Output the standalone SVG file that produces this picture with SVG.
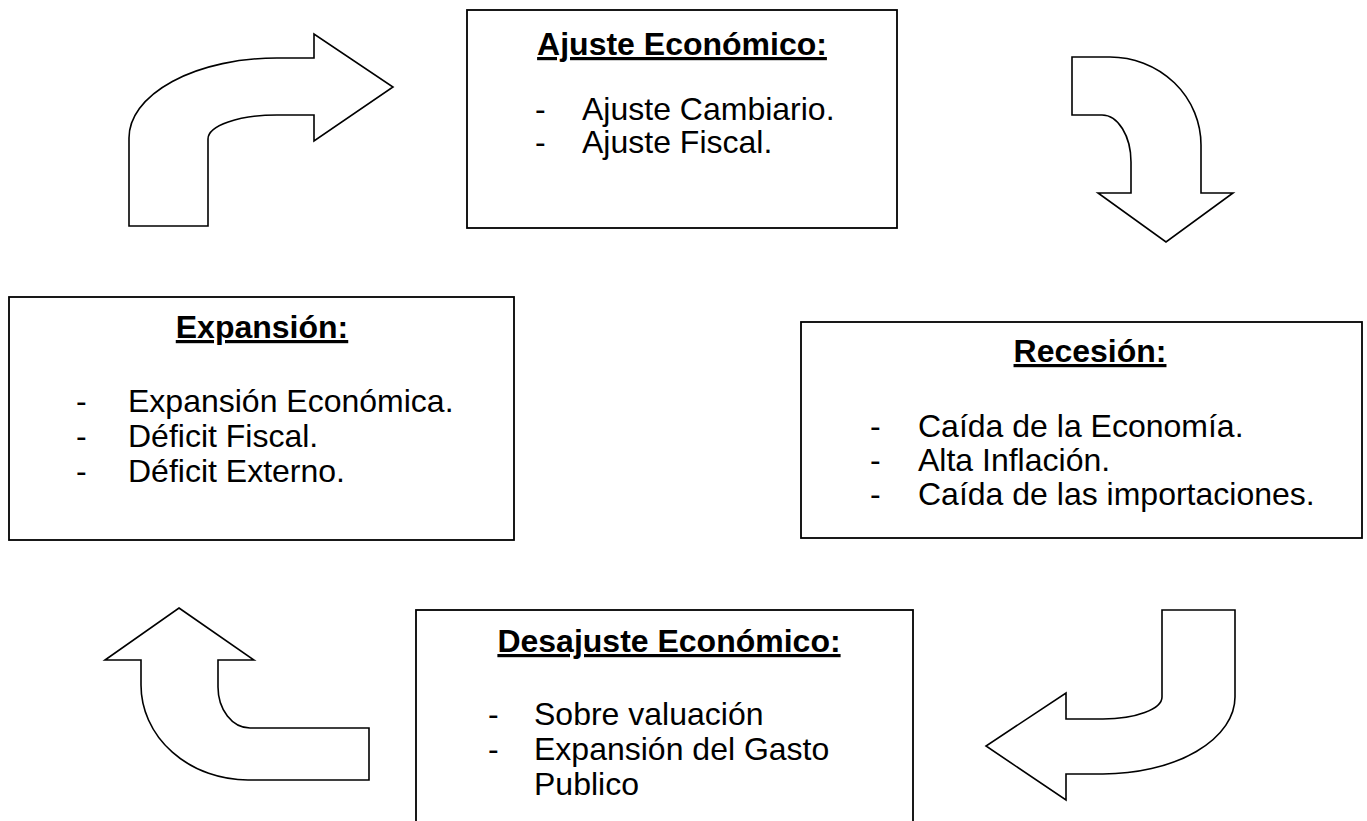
<svg xmlns="http://www.w3.org/2000/svg" width="1367" height="821" viewBox="0 0 1367 821">
<style>
.box{fill:#fff;stroke:#000;stroke-width:1.8}
.arr{fill:#fff;stroke:#000;stroke-width:1.6;stroke-linejoin:miter}
.t{font-family:"Liberation Sans",Arial,sans-serif;font-size:32px;font-weight:bold;text-anchor:middle;text-decoration:underline;fill:#000}
.i{font-family:"Liberation Sans",Arial,sans-serif;font-size:32px;fill:#000}
</style>
<rect width="1367" height="821" fill="#fff"/>
<g id="connectors">
<path class="arr" d="M129,226 L129,138 A148,80 0 0 1 277,58 L314,58 L314,34 L393,87 L314,141 L314,115 L277,115 A69,24 0 0 0 208,139 L208,226 Z"/>
<path class="arr" d="M1072,57 L1110,57 A91,88 0 0 1 1201,145 L1201,193 L1233,193 L1166,242 L1098,193 L1131,193 L1131,162 A29,47 0 0 0 1102,115 L1072,115 Z"/>
<path class="arr" d="M1162,610 L1235,610 L1235,697 A132,77 0 0 1 1103,774 L1066,774 L1066,800 L986,746 L1066,693 L1066,719 L1103,719 A59,22 0 0 0 1162,697 Z"/>
<path class="arr" d="M179,608 L254,660 L218,660 L218,687 A32,41 0 0 0 250,728 L369,728 L369,780 L248,780 A107,95 0 0 1 141,685 L141,660 L105,660 Z"/>
</g>
<g id="ajuste">
<rect class="box" x="467" y="10" width="430" height="218"/>
<text class="t" x="682" y="55">Ajuste Económico:</text>
<text class="i" x="535" y="120">-</text><text class="i" x="582" y="120">Ajuste Cambiario.</text>
<text class="i" x="535" y="153">-</text><text class="i" x="582" y="153">Ajuste Fiscal.</text>
</g>
<g id="expansion">
<rect class="box" x="9" y="297" width="505" height="243"/>
<text class="t" x="262" y="338">Expansión:</text>
<text class="i" x="76" y="412">-</text><text class="i" x="128" y="412">Expansión Económica.</text>
<text class="i" x="76" y="447">-</text><text class="i" x="128" y="447">Déficit Fiscal.</text>
<text class="i" x="76" y="482">-</text><text class="i" x="128" y="482">Déficit Externo.</text>
</g>
<g id="recesion">
<rect class="box" x="801" y="322" width="561" height="216"/>
<text class="t" x="1090" y="362">Recesión:</text>
<text class="i" x="870" y="437">-</text><text class="i" x="918" y="437">Caída de la Economía.</text>
<text class="i" x="870" y="471">-</text><text class="i" x="918" y="471">Alta Inflación.</text>
<text class="i" x="870" y="505">-</text><text class="i" x="918" y="505">Caída de las importaciones.</text>
</g>
<g id="desajuste">
<rect class="box" x="416" y="610" width="497" height="230"/>
<text class="t" x="669" y="652">Desajuste Económico:</text>
<text class="i" x="488" y="725">-</text><text class="i" x="534" y="725">Sobre valuación</text>
<text class="i" x="488" y="760">-</text><text class="i" x="534" y="760">Expansión del Gasto</text>
<text class="i" x="534" y="795">Publico</text>
</g>
</svg>
